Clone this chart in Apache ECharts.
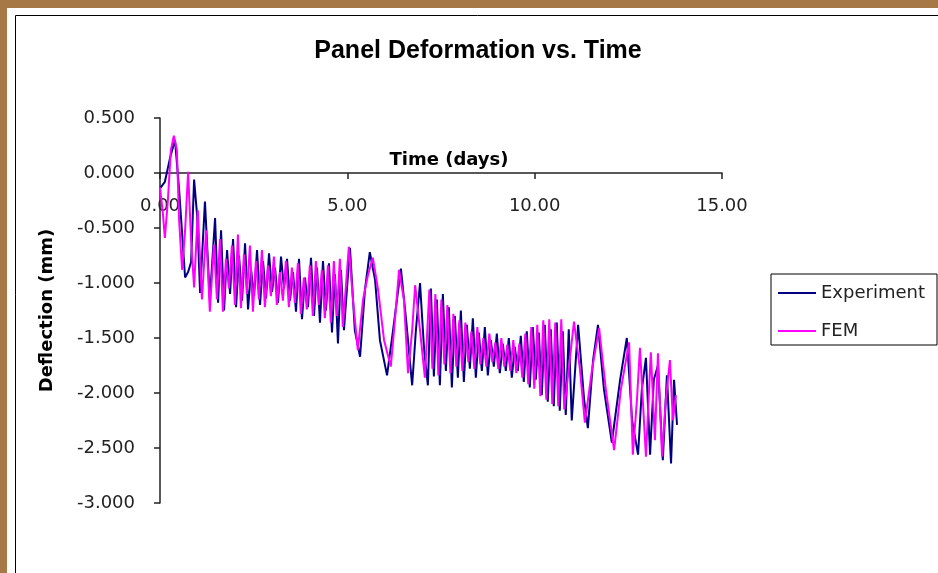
<!DOCTYPE html>
<html><head><meta charset="utf-8">
<script src="https://cdn.jsdelivr.net/npm/echarts@6/dist/echarts.min.js"></script>
<style>html,body{margin:0;padding:0;background:#A67846}#c{width:938px;height:573px}</style>
</head><body><div id="c"></div><script>
// Time (days) and deflection (mm)
const expTime = [0.00,0.13,0.27,0.40,0.51,0.67,0.75,0.83,0.91,0.99,1.07,1.20,1.33,
  1.47,1.55,1.63,1.71,1.79,1.87,1.95,2.03,2.11,2.19,2.27,2.35,2.43,2.51,2.59,2.67,2.75,2.83,2.91,2.99,3.07,3.15,3.23,3.31,3.39,3.47,3.55,3.63,3.71,3.79,3.87,3.95,4.03,4.11,4.19,4.27,4.35,4.43,4.51,4.59,4.67,4.75,4.83,4.91,
  5.07,5.20,5.34,5.47,5.60,5.74,5.87,6.06,6.22,6.43,6.57,6.73,6.83,6.94,7.05,7.15,
  7.23,7.31,7.39,7.47,7.55,7.63,7.71,7.79,7.87,7.95,8.03,8.11,8.19,8.27,8.35,8.43,8.51,8.59,8.67,8.75,8.83,8.91,8.99,9.07,9.15,9.23,9.31,9.39,9.47,9.55,9.63,9.71,9.79,9.87,9.95,10.03,10.11,10.19,10.27,10.35,10.43,10.51,10.59,10.67,10.75,10.83,10.91,10.99,
  11.16,11.32,11.42,11.56,11.69,11.85,12.06,12.28,12.46,12.60,12.76,12.86,12.97,13.08,13.18,13.29,13.42,13.53,13.64,13.72,13.80];
const expDefl = [-0.14,-0.08,0.14,0.30,-0.15,-0.95,-0.90,-0.81,-0.06,-0.38,-1.09,-0.26,-1.15,
  -0.41,-1.18,-0.52,-1.25,-0.70,-1.10,-0.60,-1.22,-0.75,-1.16,-0.64,-1.24,-0.88,-1.12,-0.70,-1.20,-0.80,-1.14,-0.73,-1.08,-0.86,-1.18,-0.76,-1.05,-0.78,-1.16,-0.90,-1.26,-0.78,-1.33,-0.95,-1.22,-0.77,-1.30,-0.86,-1.36,-0.80,-1.25,-0.82,-1.45,-0.92,-1.55,-0.88,-1.43,
  -0.68,-1.43,-1.67,-1.06,-0.72,-0.97,-1.52,-1.84,-1.43,-0.87,-1.34,-1.93,-1.43,-1.00,-1.61,-1.93,
  -1.05,-1.85,-1.15,-1.93,-1.10,-1.80,-1.22,-1.95,-1.30,-1.86,-1.25,-1.90,-1.38,-1.78,-1.32,-1.86,-1.45,-1.80,-1.40,-1.84,-1.52,-1.76,-1.46,-1.82,-1.55,-1.80,-1.50,-1.86,-1.58,-1.80,-1.48,-1.90,-1.44,-1.95,-1.40,-1.88,-1.45,-2.02,-1.38,-2.08,-1.42,-2.12,-1.36,-2.16,-1.44,-2.20,-1.42,-2.25,
  -1.38,-2.06,-2.32,-1.70,-1.38,-1.97,-2.45,-1.88,-1.50,-2.25,-2.56,-1.97,-1.68,-2.56,-1.88,-1.75,-2.61,-1.84,-2.64,-1.88,-2.29];
const femTime = [0.00,0.08,0.13,0.21,0.29,0.37,0.45,0.51,0.59,0.67,0.75,0.83,0.91,1.01,1.12,1.23,1.33,1.44,
  1.52,1.60,1.68,1.76,1.84,1.92,2.00,2.08,2.16,2.24,2.32,2.40,2.48,2.56,2.64,2.72,2.80,2.88,2.96,3.04,3.12,3.20,3.28,3.36,3.44,3.52,3.60,3.68,3.76,3.84,3.92,4.00,4.08,4.16,4.24,4.32,4.40,4.48,4.56,4.64,4.72,4.80,4.88,
  5.04,5.15,5.28,5.42,5.55,5.68,5.82,5.98,6.16,6.27,6.38,6.51,6.62,6.73,6.81,6.94,7.07,
  7.19,7.27,7.35,7.43,7.51,7.59,7.67,7.75,7.83,7.91,7.99,8.07,8.15,8.23,8.31,8.39,8.47,8.55,8.63,8.71,8.79,8.87,8.95,9.03,9.11,9.19,9.27,9.35,9.43,9.51,9.59,9.67,9.75,9.83,9.91,9.99,10.07,10.15,10.23,10.31,10.39,10.47,10.55,10.63,10.71,10.79,
  11.05,11.21,11.34,11.53,11.72,11.90,12.12,12.30,12.52,12.62,12.73,12.81,12.97,13.10,13.21,13.29,13.40,13.50,13.61,13.69,13.77];
const femDefl = [-0.13,-0.38,-0.59,-0.25,0.21,0.34,0.21,-0.43,-0.88,-0.52,0.01,-0.61,-1.04,-0.34,-1.15,-0.52,-1.26,-0.65,
  -1.15,-0.60,-1.26,-0.78,-1.05,-0.66,-1.20,-0.56,-1.23,-0.74,-1.10,-0.66,-1.26,-0.80,-1.15,-0.70,-1.22,-0.84,-1.12,-0.76,-1.20,-0.90,-1.16,-0.80,-1.22,-0.86,-1.18,-0.82,-1.28,-0.95,-1.24,-0.84,-1.30,-0.80,-1.20,-0.88,-1.32,-0.84,-1.36,-0.80,-1.30,-0.78,-1.40,
  -0.67,-1.15,-1.61,-1.15,-0.93,-0.77,-1.06,-1.52,-1.76,-1.34,-0.88,-1.15,-1.82,-1.43,-1.02,-1.43,-1.86,
  -1.06,-1.78,-1.10,-1.84,-1.15,-1.74,-1.20,-1.82,-1.28,-1.76,-1.34,-1.80,-1.36,-1.72,-1.44,-1.78,-1.40,-1.74,-1.50,-1.76,-1.46,-1.72,-1.54,-1.78,-1.50,-1.76,-1.56,-1.80,-1.52,-1.82,-1.55,-1.86,-1.46,-1.92,-1.40,-1.96,-1.38,-2.03,-1.34,-2.06,-1.33,-2.10,-1.36,-2.12,-1.33,-2.15,
  -1.35,-1.79,-2.27,-1.79,-1.41,-1.97,-2.52,-1.97,-1.54,-2.56,-2.06,-1.59,-2.58,-1.63,-2.43,-1.64,-2.58,-2.06,-1.70,-2.25,-2.02];
const seriesNames = ['Experiment', 'FEM'];
const xTickStep = 5, xMin = 0, xMax = 15;
const yTickStep = 0.5, yMin = -3, yMax = 0.5;

function zip(ts, vs) {
  const n = Math.min(ts.length, vs.length);
  const out = [];
  for (let i = 0; i < n; i++) out.push([ts[i], vs[i]]);
  return out;
}

const chart = echarts.init(document.getElementById('c'), null, {renderer: 'canvas'});
const tickFont = {fontFamily: 'DejaVu Sans', fontSize: 18, color: '#222'};
const gridTop = 118, gridHeight = 385;
// place the time axis where deflection = 0
const zeroOffset = -gridHeight * (0 - yMin) / (yMax - yMin);
chart.setOption({
  animation: false,
  backgroundColor: '#A67846',
  graphic: [
    {type: 'rect', z: -100, shape: {x: 7, y: 8, width: 940, height: 570}, style: {fill: '#fff'}},
    {type: 'rect', z: -99, shape: {x: 15.5, y: 15.5, width: 1000, height: 1000}, style: {fill: '#fff', stroke: '#000', lineWidth: 1}}
  ],
  title: {
    text: 'Panel Deformation vs. Time',
    left: 473, top: 34, textAlign: 'center',
    textStyle: {fontFamily: 'Liberation Sans', fontWeight: 'bold', fontSize: 25, color: '#000'}
  },
  legend: {
    orient: 'vertical', left: 771, top: 274,
    data: seriesNames, icon: 'rect',
    backgroundColor: '#fff', borderColor: '#000', borderWidth: 1,
    padding: [10, 12, 5, 7], itemGap: 20, itemWidth: 38, itemHeight: 2,
    textStyle: {fontFamily: 'DejaVu Sans', fontSize: 18, color: '#222'}
  },
  grid: {left: 160, top: gridTop, width: 562, height: gridHeight, containLabel: false},
  xAxis: {
    type: 'value', min: xMin, max: xMax, interval: xTickStep,
    position: 'bottom', offset: zeroOffset,
    name: 'Time (days)', nameLocation: 'middle', nameGap: -22, nameMoveOverlap: false,
    nameTextStyle: {fontFamily: 'DejaVu Sans', fontWeight: 'bold', fontSize: 18, color: '#000', padding: [0, 0, 0, 16]},
    axisLine: {onZero: false, lineStyle: {color: '#222', width: 1.5}},
    axisTick: {show: true, inside: false, length: 6, lineStyle: {color: '#222', width: 1.5}},
    axisLabel: Object.assign({margin: 24, formatter: v => v.toFixed(2)}, tickFont),
    splitLine: {show: false}
  },
  yAxis: {
    type: 'value', min: yMin, max: yMax, interval: yTickStep,
    name: 'Deflection (mm)', nameLocation: 'middle', nameGap: 104, nameRotate: 90,
    nameTextStyle: {fontFamily: 'DejaVu Sans', fontWeight: 'bold', fontSize: 18, color: '#000'},
    axisLine: {show: true, onZero: false, lineStyle: {color: '#222', width: 1.5}},
    axisTick: {show: true, inside: false, length: 6, lineStyle: {color: '#222', width: 1.5}},
    axisLabel: Object.assign({margin: 25, formatter: v => v.toFixed(3)}, tickFont),
    splitLine: {show: false}
  },
  series: [
    {name: seriesNames[0], type: 'line', symbol: 'none', data: zip(expTime, expDefl),
     lineStyle: {color: '#000080', width: 2}, itemStyle: {color: '#000080'}},
    {name: seriesNames[1], type: 'line', symbol: 'none', data: zip(femTime, femDefl),
     lineStyle: {color: '#FF00FF', width: 2}, itemStyle: {color: '#FF00FF'}}
  ]
});
</script></body></html>
